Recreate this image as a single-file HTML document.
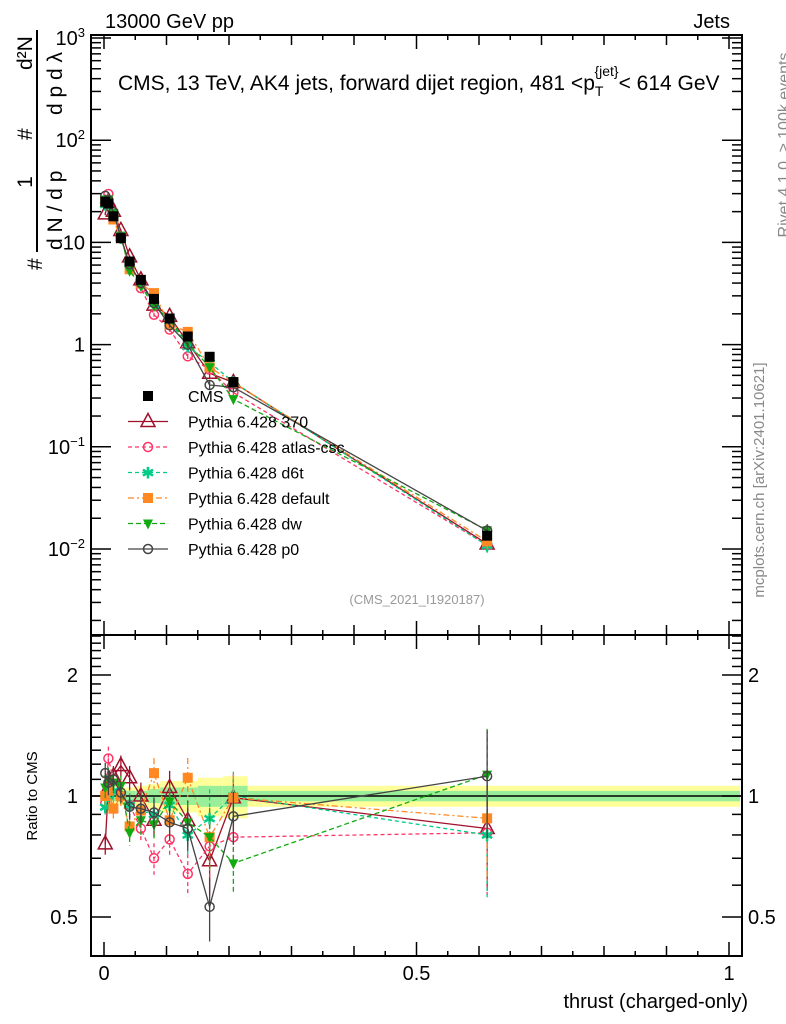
<!DOCTYPE html>
<html><head><meta charset="utf-8"><style>
body{margin:0;background:#fff}
svg{display:block;font-family:"Liberation Sans",sans-serif}
</style></head><body>
<svg id="c" width="786" height="1024" viewBox="0 0 786 1024" xmlns="http://www.w3.org/2000/svg">
<g id="bands"></g>
<g id="axes"></g>
<g id="series"></g>
<text x="105" y="28" font-size="20">13000 GeV pp</text>
<text x="730" y="28" font-size="20" text-anchor="end">Jets</text>
<text x="118" y="90" font-size="21">CMS, 13 TeV, AK4 jets, forward dijet region, 481 &lt;p<tspan font-size="14" dy="6">T</tspan><tspan font-size="14" dy="-20" dx="-9">{jet}</tspan><tspan dy="14">&lt; 614 GeV</tspan></text>
<text x="417" y="604" font-size="13" fill="#999" text-anchor="middle">(CMS_2021_I1920187)</text>
<g transform="translate(50,270) rotate(-90)">
<text x="0" y="-8" font-size="21">#</text>
<text x="88" y="-18" font-size="21" text-anchor="middle">1</text>
<line x1="18" y1="-13" x2="240" y2="-13" stroke="#000" stroke-width="2"/>
<text x="20" y="12" font-size="21">d N / d p</text>
<text x="130" y="-18" font-size="21">#</text>
<text x="155" y="12" font-size="21">d p   d λ</text>
<text x="200" y="-18" font-size="21">d²N</text>
</g>
<text transform="translate(789,145) rotate(-90)" font-size="16" fill="#888" text-anchor="middle">Rivet 4.1.0, ≥ 100k events</text>
<text transform="translate(764,480) rotate(-90)" font-size="15" fill="#888" text-anchor="middle">mcplots.cern.ch [arXiv:2401.10621]</text>
<text transform="translate(37,796) rotate(-90)" font-size="15" text-anchor="middle">Ratio to CMS</text>
<text x="748" y="1008" font-size="20" text-anchor="end">thrust (charged-only)</text>
<g id="legend"></g>
</svg>
<script>
const thrust=[0.002,0.007,0.015,0.027,0.041,0.059,0.080,0.105,0.134,0.169,0.207,0.613];
const cms=[25,24,18,11,6.5,4.3,2.8,1.8,1.2,0.76,0.43,0.0135];
const bandEdges=[0,0.005,0.01,0.02,0.035,0.05,0.07,0.09,0.12,0.15,0.19,0.23,1.02];
const bandYellow=[0.09,0.08,0.06,0.05,0.05,0.06,0.07,0.09,0.09,0.11,0.12,0.06];
const bandGreen=[0.05,0.04,0.03,0.03,0.03,0.03,0.04,0.05,0.05,0.06,0.06,0.03];
const r370=[0.76,1.05,1.12,1.19,1.11,1.0,0.87,1.05,0.87,0.69,0.99,0.83];
const rAtlas=[0.96,1.24,1.1,1.0,0.95,0.83,0.70,0.78,0.64,0.75,0.79,0.81];
const rD6t=[0.94,1.0,1.03,1.0,0.95,0.92,0.90,0.95,0.8,0.88,1.0,0.80];
const rDefault=[1.0,1.03,0.93,1.0,0.84,0.92,1.14,0.87,1.11,0.79,0.99,0.88];
const rDw=[1.05,1.1,1.08,1.06,0.81,0.87,0.85,0.97,0.86,0.79,0.68,1.13];
const rP0=[1.14,1.08,1.1,1.02,0.94,0.93,0.91,0.86,0.83,0.53,0.89,1.12];
const errs=[0.06,0.07,0.06,0.06,0.07,0.08,0.09,0.1,0.12,0.18,0.15,0.3];
const legendLabels=["CMS","Pythia 6.428 370","Pythia 6.428 atlas-csc","Pythia 6.428 d6t","Pythia 6.428 default","Pythia 6.428 dw","Pythia 6.428 p0"];

const NS="http://www.w3.org/2000/svg";
const X=t=>104+625*t;
const YM=v=>549-102.2*(Math.log10(v)+2);
const YR=r=>796-121*Math.log2(r);
const L=91,R=742,T=35,MB=635,B=956;
function el(tag,attrs,parent){const e=document.createElementNS(NS,tag);for(const k in attrs)e.setAttribute(k,attrs[k]);parent.appendChild(e);return e;}
const axes=document.getElementById('axes'),bands=document.getElementById('bands'),ser=document.getElementById('series'),leg=document.getElementById('legend');

for(let i=0;i<bandYellow.length;i++){
  const x1=X(bandEdges[i]),x2=Math.min(X(bandEdges[i+1]),R-2);
  const y=el('rect',{x:x1,y:YR(1+bandYellow[i]),width:x2-x1,height:YR(1-bandYellow[i])-YR(1+bandYellow[i]),fill:'#ffff99'},bands);
  
  
  const g=el('rect',{x:x1,y:YR(1+bandGreen[i]),width:x2-x1,height:YR(1-bandGreen[i])-YR(1+bandGreen[i]),fill:'#99ee99'},bands);
  
  
}
el('line',{x1:L,y1:YR(1),x2:R,y2:YR(1),stroke:'#000','stroke-width':1.5},bands);

for(const [y1,y2] of [[T,MB],[MB,B]]){
  const f=el('rect',{x:L,y:y1,width:R-L,height:y2-y1,fill:'none',stroke:'#000','stroke-width':2},axes);
  
  
}
for(let k=0;k<=20;k++){
  const t=k*0.05,x=X(t),big=k%10==0,len=big?14:(k%2==0?10:5);
  for(const [y0,dir] of [[T,1],[MB,-1],[MB,1],[B,-1]]) el('line',{x1:x,y1:y0,x2:x,y2:y0+dir*len,stroke:'#000','stroke-width':1.5},axes);
}
const xt=[0,0.5,1],xtl=["0","0.5","1"];
xt.forEach((t,i)=>{const tx=el('text',{x:X(t),y:980,'font-size':20,'text-anchor':'middle'},axes);tx.textContent=xtl[i];

});
const mainTicks=[-2,-1,0,1,2,3],mainLab=["10<tspan dy='-8' font-size='13'>−2</tspan>","10<tspan dy='-8' font-size='13'>−1</tspan>","1","10","10<tspan dy='-8' font-size='13'>2</tspan>","10<tspan dy='-8' font-size='13'>3</tspan>"];
for(let d=-3;d<=3;d++)for(let m=1;m<10;m++){const v=m*Math.pow(10,d),y=YM(v);if(y<T||y>MB)continue;
  const len=m==1?20:10;el('line',{x1:L,y1:y,x2:L+len,y2:y,stroke:'#000','stroke-width':1.5},axes);el('line',{x1:R,y1:y,x2:R-len,y2:y,stroke:'#000','stroke-width':1.5},axes);}
mainTicks.forEach((d,i)=>{const tx=el('text',{x:85,y:YM(Math.pow(10,d))+7,'font-size':20,'text-anchor':'end'},axes);tx.innerHTML=mainLab[i];

});
for(let r=0.4;r<=2.5001;r+=0.1){const y=YR(r);if(y<MB||y>B)continue;const maj=Math.abs(r-0.5)<1e-6||Math.abs(r-1)<1e-6||Math.abs(r-2)<1e-6;const len=maj?20:10;
  el('line',{x1:L,y1:y,x2:L+len,y2:y,stroke:'#000','stroke-width':1.5},axes);el('line',{x1:R,y1:y,x2:R-len,y2:y,stroke:'#000','stroke-width':1.5},axes);}
[[2,"2"],[1,"1"],[0.5,"0.5"]].forEach(([r,s])=>{for(const [x,a] of [[78,'end'],[748,'start']]){const tx=el('text',{x:x,y:YR(r)+7,'font-size':20,'text-anchor':a},axes);tx.textContent=s;

}});

function marker(kind,x,y,col,g){
  if(kind=='sq')return el('rect',{x:x-5,y:y-5,width:10,height:10,fill:col},g);
  if(kind=='tri')return el('polygon',{points:`${x},${y-8} ${x-7},${y+5} ${x+7},${y+5}`,fill:'none',stroke:col,'stroke-width':1.5},g);
  if(kind=='circ')return el('circle',{cx:x,cy:y,r:4.5,fill:'none',stroke:col,'stroke-width':1.5},g);
  if(kind=='star')return el('text',{x:x,y:y+6,'font-size':16,'text-anchor':'middle',fill:col},g);
  if(kind=='tridn')return el('polygon',{points:`${x},${y+6} ${x-5},${y-4} ${x+5},${y-4}`,fill:col},g);
}
const series=[
 {name:'pythia-370',r:r370,col:'#a0102a',dash:'',m:'tri'},
 {name:'pythia-atlas-csc',r:rAtlas,col:'#ff3366',dash:'4,3',m:'circ'},
 {name:'pythia-d6t',r:rD6t,col:'#00cc88',dash:'4,3',m:'star'},
 {name:'pythia-default',r:rDefault,col:'#ff8822',dash:'6,3,2,3',m:'sq'},
 {name:'pythia-dw',r:rDw,col:'#11aa11',dash:'5,3',m:'tridn'},
 {name:'pythia-p0',r:rP0,col:'#444444',dash:'',m:'circ'}];
series.forEach(s=>{
  const g=el('g',{},ser);
  
  
  const pm=thrust.map((t,i)=>X(t)+','+YM(cms[i]*s.r[i])).join(' ');
  const pr=thrust.map((t,i)=>X(t)+','+YR(s.r[i])).join(' ');
  el('polyline',{points:pm,fill:'none',stroke:s.col,'stroke-width':1.3,'stroke-dasharray':s.dash},g);
  el('polyline',{points:pr,fill:'none',stroke:s.col,'stroke-width':1.3,'stroke-dasharray':s.dash},g);
  thrust.forEach((t,i)=>{
    const x=X(t),v=s.r[i],e=errs[i];
    el('line',{x1:x,y1:YR(v*(1+e)),x2:x,y2:YR(v*(1-e)),stroke:s.col,'stroke-width':1.3,'stroke-dasharray':s.dash},g);
    el('line',{x1:x,y1:YM(cms[i]*v*(1+e/2)),x2:x,y2:YM(cms[i]*v*(1-e/2)),stroke:s.col,'stroke-width':1.3},g);
    const m1=marker(s.m,x,YM(cms[i]*v),s.col,g);if(s.m=='star')m1.textContent='✱';
    
    
    const m2=marker(s.m,x,YR(v),s.col,g);if(s.m=='star')m2.textContent='✱';
    
    
  });
});
const gd=el('g',{},ser);


thrust.forEach((t,i)=>{const m=marker('sq',X(t),YM(cms[i]),'#000',gd);

});

const lkinds=[{m:'sq',col:'#000',dash:null},...series.map(s=>({m:s.m,col:s.col,dash:s.dash}))];
legendLabels.forEach((lab,i)=>{
  const y=396+25.5*i,g=el('g',{},leg);
  
  
  const k=lkinds[i];
  if(k.dash!==null)el('line',{x1:128,y1:y,x2:168,y2:y,stroke:k.col,'stroke-width':1.3,'stroke-dasharray':k.dash},g);
  const mm=marker(k.m,148,y,k.col,g);if(k.m=='star')mm.textContent='✱';
  const tx=el('text',{x:188,y:y+6,'font-size':16},g);tx.textContent=lab;
});
</script>
</body></html>
